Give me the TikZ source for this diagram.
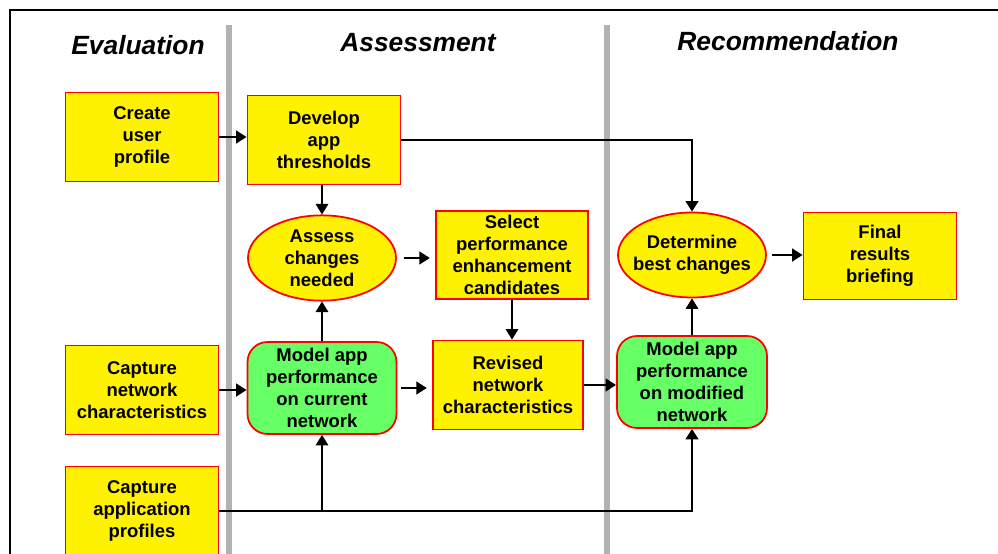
\documentclass[tikz,border=0pt]{standalone}
\usepackage{fontspec}
\setmainfont{Liberation Sans}
\usetikzlibrary{arrows.meta,positioning,shapes.geometric,calc}

\begin{document}
\begin{tikzpicture}[
		x=0.02cm, y=-0.02cm,
		> = {Triangle[length=2.1mm,width=2.5mm]},
		box/.style={draw=red,line width=1pt,fill=yellow,rectangle,minimum width=3.06cm,minimum height=1.78cm,inner sep=1pt,align=center,font=\fontsize{10.5}{12.5}\selectfont\bfseries},
		oval/.style={box,ellipse,minimum width=2.96cm,minimum height=1.7cm},
		model/.style={box,fill=green!60!white,rounded corners=0.4cm,minimum width=2.98cm,minimum height=1.84cm},
		phase/.style={font=\fontsize{15}{18}\selectfont\bfseries\itshape},
		divider/.style={draw=black!30,line width=3.2pt},
		heavy/.style={->,line width=1.5pt},
		light/.style={->,line width=0.9pt}
		]
		\useasboundingbox (0,0) rectangle (998,554);
		\clip (0,0) rectangle (998,554);
		\draw[line width=1.2pt] (1010,10) -- (10,10) -- (10,570);
		\draw[divider] (229,25) -- (229,570);
		\draw[divider] (607,25) -- (607,570);
		
		% phases
		\node[phase] (evaltitle) at (138,45) {Evaluation};
		\node[phase] (assesstitle) at (418,43) {Assessment};
		\node[phase] (rectitle) at (788,41) {Recommendation};
		
		% steps
		\node[box] (profile) at (142,137) {Create\\user\\profile};
		\node[box] (thresh) at (324,140) {Develop\\app\\thresholds};
		\node[oval] (assess) at (322,258) {Assess\\changes\\needed};
		\node[box,minimum width=3.04cm,minimum height=1.76cm] (select) at (512,255) {Select\\performance\\enhancement\\candidates};
		\node[oval,inner xsep=-4pt] (best) at (692,255) {Determine\\best changes};
		\node[box,minimum height=1.74cm] (final) at (880,256) {Final\\results\\briefing};
		\node[box] (netchar) at (142,390) {Capture\\network\\characteristics};
		\node[model] (modcur) at (322,388) {Model app\\performance\\on current\\network};
		\node[box,minimum width=3cm] (revised) at (508,385) {Revised\\network\\characteristics};
		\node[model,minimum width=3cm] (modnew) at (692,382) {Model app\\performance\\on modified\\network};
		\node[box] (appprof) at (142,511) {Capture\\application\\profiles};
		
		% Draw the flow arrows
		\draw[heavy] (profile.east) -- (profile.east -| thresh.west);
		\draw[light] (assess.north |- thresh.south) -- (assess.north);
		\draw[heavy] (thresh.east) -| (best.north);
		\draw[heavy,shorten <=4pt,shorten >=3pt] (assess.east) -- (assess.east -| select.west);
		\draw[heavy,shorten <=3pt] (best.east) -- (best.east -| final.west);
		\draw[light] (select.south) -- (select.south |- revised.north);
		\draw[light] (modcur.north) -- (assess.south);
		\draw[heavy] (netchar.east) -- (netchar.east -| modcur.west);
		\draw[heavy,shorten <=2pt,shorten >=3pt] (modcur.east) -- (modcur.east -| revised.west);
		\draw[heavy] (revised.east) -- (revised.east -| modnew.west);
		\draw[light] (modnew.north) -- (best.south);
		\draw[heavy] (appprof.east) -| (modnew.south);
		\draw[light] (appprof.east -| modcur) -- (modcur.south);
	\end{tikzpicture}
\end{document}
